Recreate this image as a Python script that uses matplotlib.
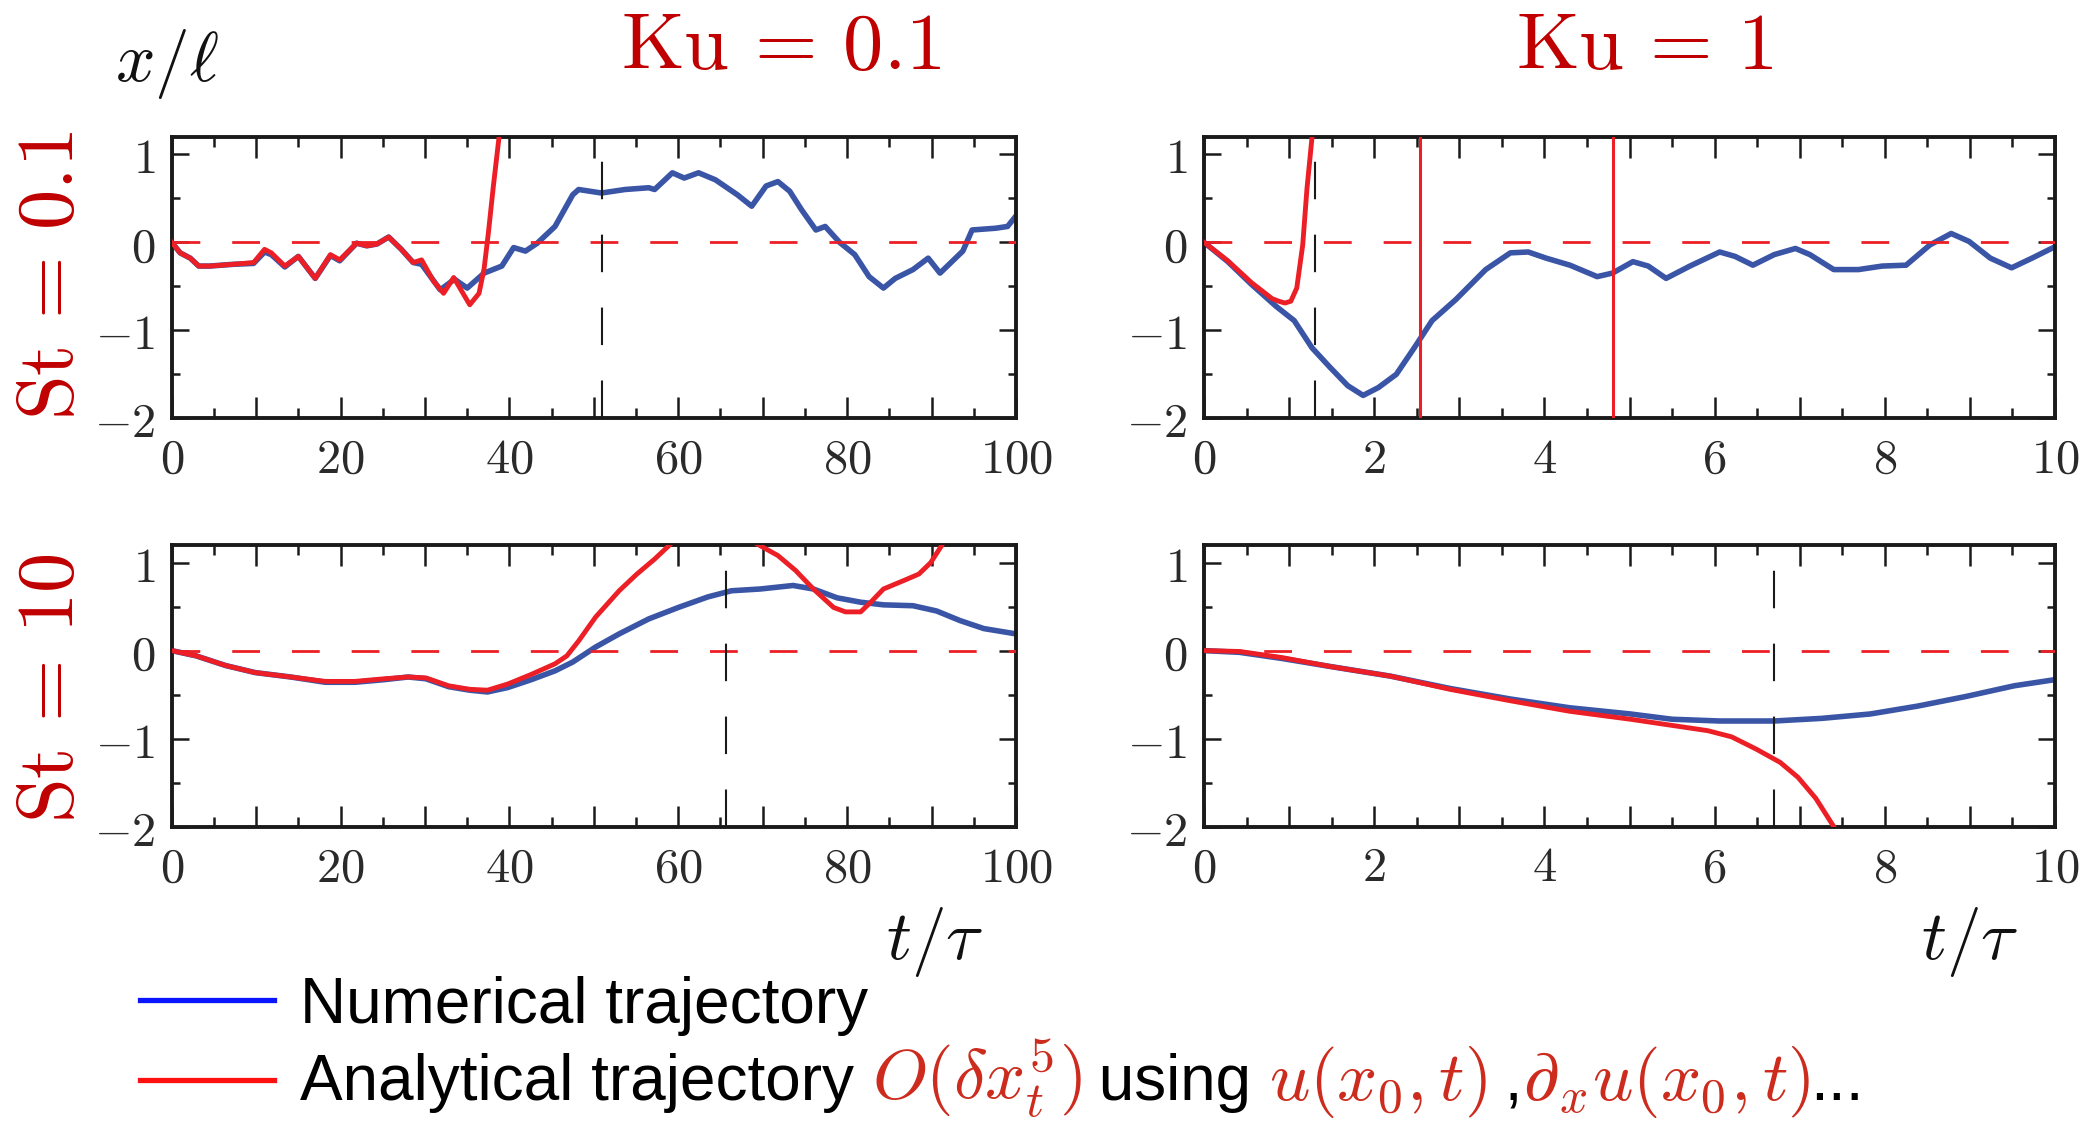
import numpy as np
import matplotlib
matplotlib.use("Agg")
import matplotlib.pyplot as plt
from matplotlib.ticker import MultipleLocator, FuncFormatter
from matplotlib.lines import Line2D

plt.rcParams['mathtext.fontset'] = 'cm'

# ---- Ku = 0.1, St = 0.1 ----
t_a_num = [0, 1.0, 2.2, 3.2, 4.5, 7.3, 9.7, 11.0, 11.8, 13.4, 15.0, 17.0, 18.8, 19.9,
           21.9, 23.1, 24.3, 25.7, 27.2, 28.6, 29.6, 31.8, 33.5, 35.0, 37.0, 39.1,
           40.5, 41.9, 43.3, 45.4, 47.5, 48.2, 50.9, 53.7, 56.5, 57.2, 59.3, 60.7,
           62.4, 64.4, 67.0, 68.7, 70.4, 71.8, 73.2, 74.6, 76.3, 77.4, 79.1, 80.9,
           82.6, 84.3, 85.7, 87.8, 89.6, 91.0, 93.7, 94.8, 97.6, 99.0, 100.0]
x_a_num = [0, -0.12, -0.18, -0.27, -0.27, -0.25, -0.24, -0.11, -0.14, -0.28, -0.16, -0.41,
           -0.15, -0.21, -0.01, -0.04, -0.02, 0.06, -0.08, -0.23, -0.25, -0.54, -0.42,
           -0.52, -0.35, -0.27, -0.06, -0.10, -0.01, 0.18, 0.54, 0.60, 0.56, 0.60, 0.62,
           0.60, 0.79, 0.73, 0.79, 0.71, 0.54, 0.41, 0.64, 0.69, 0.58, 0.37, 0.14, 0.18,
           0.0, -0.14, -0.39, -0.52, -0.41, -0.31, -0.18, -0.35, -0.10, 0.14, 0.16, 0.18,
           0.30]
t_a_ana = [0, 1.0, 2.2, 3.2, 4.5, 7.3, 9.7, 11.0, 11.8, 13.4, 15.0, 17.0, 18.8, 19.9,
           21.9, 23.1, 24.3, 25.7, 27.2, 28.6, 29.6, 31.0, 32.2, 33.4, 35.3, 36.4,
           37.0, 37.5, 38.1, 38.8, 39.5]
x_a_ana = [0, -0.12, -0.18, -0.27, -0.27, -0.25, -0.23, -0.08, -0.12, -0.27, -0.16, -0.41,
           -0.14, -0.20, -0.01, -0.04, -0.02, 0.06, -0.08, -0.23, -0.20, -0.44, -0.58,
           -0.40, -0.71, -0.58, -0.30, 0.10, 0.64, 1.22, 1.80]

# ---- Ku = 1, St = 0.1 ----
t_b_num = [0, 0.28, 0.56, 0.85, 1.06, 1.27, 1.48, 1.69, 1.87, 2.05, 2.26, 2.47, 2.68,
           2.96, 3.31, 3.60, 3.81, 4.02, 4.30, 4.62, 4.80, 5.04, 5.22, 5.43, 5.71, 6.06,
           6.24, 6.45, 6.70, 6.95, 7.12, 7.40, 7.69, 7.97, 8.25, 8.53, 8.78, 8.99, 9.24,
           9.49, 9.73, 10.0]
x_b_num = [0, -0.22, -0.48, -0.73, -0.89, -1.20, -1.42, -1.63, -1.74, -1.65, -1.50, -1.20,
           -0.89, -0.65, -0.31, -0.12, -0.11, -0.18, -0.26, -0.39, -0.35, -0.22, -0.27,
           -0.41, -0.27, -0.11, -0.16, -0.26, -0.14, -0.07, -0.14, -0.31, -0.31, -0.27,
           -0.26, -0.03, 0.10, 0.01, -0.18, -0.29, -0.18, -0.05]
t_b_ana = [0, 0.28, 0.56, 0.80, 0.88, 0.95, 1.02, 1.09, 1.16, 1.21, 1.27, 1.32]
x_b_ana = [0, -0.21, -0.46, -0.64, -0.67, -0.69, -0.67, -0.52, -0.03, 0.61, 1.20, 1.70]
t_b_blowup = [2.54, 4.81]

# ---- Ku = 0.1, St = 10 ----
t_c_num = [0, 2.9, 6.4, 9.9, 14.1, 18.2, 21.7, 25.2, 28.0, 30.1, 32.8, 35.3, 37.4, 39.8,
           42.6, 45.4, 47.5, 50.2, 53.0, 56.5, 60.0, 63.5, 66.3, 69.7, 73.6, 76.0, 78.8,
           81.6, 84.3, 87.8, 90.6, 93.4, 96.2, 100.0]
x_c_num = [0, -0.06, -0.17, -0.25, -0.30, -0.36, -0.36, -0.33, -0.30, -0.32, -0.41, -0.45,
           -0.47, -0.42, -0.33, -0.23, -0.13, 0.04, 0.19, 0.36, 0.49, 0.61, 0.68, 0.70,
           0.74, 0.70, 0.60, 0.55, 0.52, 0.51, 0.45, 0.34, 0.25, 0.19]
t_c_ana = [0, 2.9, 6.4, 9.9, 14.1, 18.2, 21.7, 25.2, 28.0, 30.1, 32.8, 35.3, 37.4, 39.8,
           42.6, 45.4, 46.8, 48.2, 50.2, 53.0, 55.1, 57.2, 59.3, 60.5, np.nan,
           68.5, 69.0, 71.8, 73.9, 76.0, 78.4, 79.8, 81.6, 82.9, 84.3, 86.8, 88.5, 89.9,
           91.3, 92.0]
x_c_ana = [0, -0.06, -0.17, -0.25, -0.30, -0.35, -0.35, -0.32, -0.30, -0.31, -0.40, -0.44,
           -0.45, -0.38, -0.27, -0.15, -0.06, 0.11, 0.38, 0.68, 0.87, 1.04, 1.23, 1.40,
           np.nan, 1.40, 1.23, 1.08, 0.91, 0.70, 0.49, 0.44, 0.44, 0.56, 0.70, 0.80, 0.87,
           1.00, 1.21, 1.40]

# ---- Ku = 1, St = 10 ----
t_d_num = [0, 0.42, 0.92, 1.48, 2.19, 2.89, 3.60, 4.30, 5.01, 5.50, 6.06, 6.70, 7.26,
           7.83, 8.39, 8.96, 9.52, 10.0]
x_d_num = [0, -0.02, -0.09, -0.18, -0.29, -0.43, -0.55, -0.65, -0.72, -0.78, -0.80, -0.80,
           -0.77, -0.72, -0.63, -0.52, -0.40, -0.33]
t_d_ana = [0, 0.42, 0.92, 1.48, 2.19, 2.89, 3.60, 4.30, 5.01, 5.50, 5.92, 6.20, 6.49,
           6.77, 6.98, 7.19, 7.40, 7.50]
x_d_ana = [0, -0.01, -0.08, -0.18, -0.29, -0.44, -0.57, -0.69, -0.78, -0.85, -0.91, -0.98,
           -1.12, -1.27, -1.44, -1.68, -2.00, -2.20]

# characteristic time marked by the vertical dashed line in each panel
t_mark = [51.0, 1.30, 65.6, 6.7]

ku_labels = [r'$\mathrm{Ku}\,=\,0.1$', r'$\mathrm{Ku}\,=\,1$']
st_labels = [r'$\mathrm{St}\,=\,0.1$', r'$\mathrm{St}\,=\,10$']

W, H = 2094, 1122
fig = plt.figure(figsize=(W / 100, H / 100), dpi=100)

C_NUM = '#3a55a6'
C_ANA = '#ec1f26'
C_TITLE = '#c00000'
C_TICK = '#2a2a2a'

col_x = [171.7 / W, 1204 / W]
col_w = [(1016 - 171.7) / W, (2055 - 1204) / W]
row_y = [1 - 418.3 / H, 1 - 826.6 / H]
row_h = 281.6 / H


def step_formatter(step):
    def f(v, pos):
        if abs(v / step - round(v / step)) < 1e-6:
            if abs(v) < 1e-9:
                v = 0
            return f'${v:g}$'
        return ''
    return FuncFormatter(f)


panels = [
    (0, 0, t_a_num, x_a_num, t_a_ana, x_a_ana, [], t_mark[0], 100),
    (0, 1, t_b_num, x_b_num, t_b_ana, x_b_ana, t_b_blowup, t_mark[1], 10),
    (1, 0, t_c_num, x_c_num, t_c_ana, x_c_ana, [], t_mark[2], 100),
    (1, 1, t_d_num, x_d_num, t_d_ana, x_d_ana, [], t_mark[3], 10),
]

for r, c, tn, xn, ta, xa, blow, tm, tmax in panels:
    ax = fig.add_axes([col_x[c], row_y[r], col_w[c], row_h])
    ax.plot(tn, xn, color=C_NUM, lw=4.0, zorder=2, solid_joinstyle='round')
    ax.axhline(0, color=C_ANA, lw=2.0, ls=(0, (10, 11.5)), zorder=3)
    ax.plot(ta, xa, color=C_ANA, lw=3.5, zorder=4, solid_joinstyle='round')
    for tb in blow:
        ax.axvline(tb, color=C_ANA, lw=2.2, zorder=4)
    ax.axvline(tm, color='#1a1a1a', lw=1.5, ls=(0, (18, 17)), zorder=5)

    ax.set_xlim(0, tmax)
    ax.set_ylim(-2, 1.2)
    big = tmax / 10
    ax.xaxis.set_major_locator(MultipleLocator(big))
    ax.xaxis.set_minor_locator(MultipleLocator(big / 2))
    ax.xaxis.set_major_formatter(step_formatter(2 * big))
    ax.yaxis.set_major_locator(MultipleLocator(1))
    ax.yaxis.set_minor_locator(MultipleLocator(0.5))
    ax.yaxis.set_major_formatter(step_formatter(1))

    ax.tick_params(axis='both', which='both', direction='in', top=True, right=True,
                   width=1.8, color='#1a1a1a', labelcolor=C_TICK)
    ax.tick_params(axis='x', which='major', length=15, pad=12, labelsize=35)
    ax.tick_params(axis='x', which='minor', length=7.5)
    ax.tick_params(axis='y', which='major', length=12, pad=12, labelsize=35)
    ax.tick_params(axis='y', which='minor', length=6)
    for sp in ax.spines.values():
        sp.set_linewidth(2.8)
        sp.set_color('#1a1a1a')

# column and row headings
fig.text(781 / W, 1 - 47 / H, ku_labels[0], ha='center', va='center',
         fontsize=58, color=C_TITLE)
fig.text(1645 / W, 1 - 47 / H, ku_labels[1], ha='center', va='center',
         fontsize=58, color=C_TITLE)
fig.text(51 / W, 1 - 276 / H, st_labels[0], ha='center', va='center', rotation=90,
         fontsize=58, color=C_TITLE)
fig.text(51 / W, 1 - 688 / H, st_labels[1], ha='center', va='center', rotation=90,
         fontsize=58, color=C_TITLE)

# axis labels
fig.text(167 / W, 1 - 64 / H, r'$x/\ell$', ha='center', va='center', fontsize=50,
         color='#111111')
fig.text(935 / W, 1 - 942 / H, r'$t/\tau$', ha='center', va='center', fontsize=50,
         color='#111111')
fig.text(1970 / W, 1 - 942 / H, r'$t/\tau$', ha='center', va='center', fontsize=50,
         color='#111111')

# legend keys
fig.add_artist(Line2D([140 / W, 274 / W], [1 - 1000 / H] * 2, transform=fig.transFigure,
                      color='#0a14ff', lw=3.8))
fig.add_artist(Line2D([140 / W, 274 / W], [1 - 1080 / H] * 2, transform=fig.transFigure,
                      color='#ff1010', lw=3.8))

C_MATH = '#cc2b1d'
sans = dict(family='Liberation Sans', fontsize=46)
math = dict(fontsize=51)
fig.text(300 / W, 1 - 1023 / H, 'Numerical trajectory', ha='left', va='baseline',
         color='black', **sans)

pieces = [
    ('Analytical trajectory ', 'black', sans),
    (r'$O(\delta x_t^5)$', C_MATH, math),
    (' using ', 'black', sans),
    (r'$u(x_0,t)$', C_MATH, math),
    (' ,', 'black', sans),
    (r'$\partial_x u(x_0,t)$', C_MATH, math),
    ('...', 'black', sans),
]
renderer = fig.canvas.get_renderer()
xpos = 300 / W
ybase = 1 - 1100 / H
for s, col, kw in pieces:
    t = fig.text(xpos, ybase, s, ha='left', va='baseline', color=col, **kw)
    bb = t.get_window_extent(renderer)
    xpos = bb.x1 / W

fig.savefig('out.png', dpi=100, facecolor='white')
